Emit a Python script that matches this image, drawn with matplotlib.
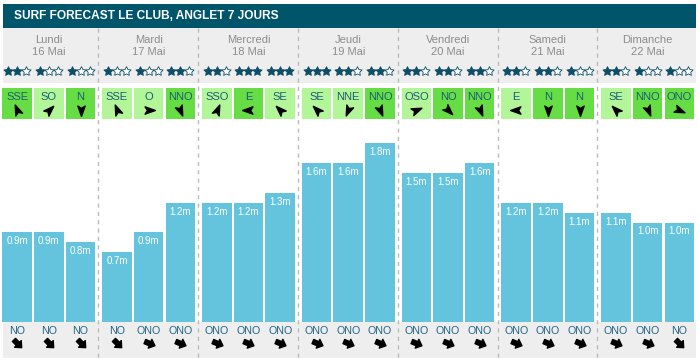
import matplotlib
matplotlib.use("Agg")
import matplotlib.pyplot as plt
import numpy as np
from matplotlib.path import Path
from matplotlib.markers import MarkerStyle
from matplotlib.transforms import Affine2D
from matplotlib.patches import Rectangle

plt.rcParams['font.family'] = ['Liberation Sans', 'DejaVu Sans']

# ---------------- data ----------------
title = "SURF FORECAST LE CLUB, ANGLET 7 JOURS"
days = ["Lundi", "Mardi", "Mercredi", "Jeudi", "Vendredi", "Samedi", "Dimanche"]
dates = ["16 Mai", "17 Mai", "18 Mai", "19 Mai", "20 Mai", "21 Mai", "22 Mai"]
stars = [2, 1, 1, 1, 1, 2, 2, 3, 3, 3, 2, 2, 2, 2, 2, 2, 2, 1, 2, 1, 1]
wind_dir = ["SSE", "SO", "N", "SSE", "O", "NNO", "SSO", "E", "SE", "SE", "NNE", "NNO",
            "OSO", "NO", "NNO", "E", "N", "N", "SE", "NNO", "ONO"]
wind_strong = [1, 0, 1, 0, 0, 1, 0, 1, 0, 0, 0, 1, 0, 1, 1, 0, 1, 1, 0, 1, 1]
wave_height = [0.9, 0.9, 0.8, 0.7, 0.9, 1.2, 1.2, 1.2, 1.3, 1.6, 1.6, 1.8,
               1.5, 1.5, 1.6, 1.2, 1.2, 1.1, 1.1, 1.0, 1.0]
swell_dir = ["NO", "NO", "NO", "NO", "ONO", "ONO", "ONO", "ONO", "ONO", "ONO", "ONO", "ONO",
             "ONO", "ONO", "ONO", "ONO", "ONO", "ONO", "ONO", "ONO", "NO"]

compass = ["N", "NNE", "NE", "ENE", "E", "ESE", "SE", "SSE",
           "S", "SSO", "SO", "OSO", "O", "ONO", "NO", "NNO"]

# ---------------- layout / style ----------------
W, H = 700, 363
DAY_X0, DAY_W, SLOT_W, BAR_W = 2.4, 99.8, 31.7, 29.5
PX_PER_M = 99.5
BAR_BASE, BAR_TOP = 322, 120

TEAL = "#00556b"
GRAY = "#eeeeee"
BAR_C = "#64c4de"
GREEN_D = "#66dd44"
GREEN_L = "#b3f699"
STAR_C = "#0d4d66"
TXT_DAY = "#8c8c8c"
TXT_WIND = "#1b5e74"
TXT_SWELL = "#1f6385"

n = len(wave_height)
idx = np.arange(n)
xc = DAY_X0 + (idx // 3) * DAY_W + (idx % 3) * SLOT_W + BAR_W / 2


def bearing(name):
    return compass.index(name) * 22.5


dart = Path([(0, 1), (0.62, -0.75), (0, -0.35), (-0.62, -0.75), (0, 1)],
            [Path.MOVETO, Path.LINETO, Path.LINETO, Path.LINETO, Path.CLOSEPOLY])
fat_arrow = Path([(0, 1), (0.8, 0.1), (0.38, 0.1), (0.38, -0.85), (-0.38, -0.85),
                  (-0.38, 0.1), (-0.8, 0.1), (0, 1)],
                 [Path.MOVETO] + [Path.LINETO] * 6 + [Path.CLOSEPOLY])

fig = plt.figure(figsize=(W / 100, H / 100), dpi=100, facecolor="white")

# background axes in pixel units
bg = fig.add_axes([0, 0, 1, 1])
bg.set_xlim(0, W)
bg.set_ylim(H, 0)
bg.axis("off")

# title bar
bg.add_patch(Rectangle((3, 4), 693, 24, color=TEAL, lw=0))
bg.text(14, 16, title, color="white", fontsize=8.6, fontweight="bold", va="center", ha="left")

# gray panels
bg.add_patch(Rectangle((3, 28), 693, 55, color=GRAY, lw=0))
bg.add_patch(Rectangle((3, BAR_BASE), 693, 36, color=GRAY, lw=0))

# day labels
for d, (dn, dt) in enumerate(zip(days, dates)):
    cx = DAY_X0 + d * DAY_W + (2 * SLOT_W + BAR_W) / 2
    bg.text(cx, 40, dn, color=TXT_DAY, fontsize=8, ha="center", va="center")
    bg.text(cx, 52, dt, color=TXT_DAY, fontsize=8, ha="center", va="center")

# stars
for i in range(n):
    for k in range(3):
        sx = xc[i] + (k - 1) * 9
        filled = k < stars[i]
        bg.scatter([sx], [70.5], s=48, marker=(5, 1, 0),
                   facecolor=STAR_C if filled else "white",
                   edgecolor=STAR_C, linewidths=0.6, zorder=3)

# wind boxes
for i in range(n):
    bg.add_patch(Rectangle((xc[i] - BAR_W / 2, 88), BAR_W, 31,
                           color=GREEN_D if wind_strong[i] else GREEN_L, lw=0))
    bg.text(xc[i], 97, wind_dir[i], color=TXT_WIND, fontsize=8, ha="center", va="center")
    rot = -(bearing(wind_dir[i]) + 180)
    m = MarkerStyle(dart, transform=Affine2D().rotate_deg(rot))
    bg.plot([xc[i]], [110], marker=m, markersize=8.5, color="black", linestyle="none")

# swell labels and arrows
for i in range(n):
    bg.text(xc[i], 331, swell_dir[i], color=TXT_SWELL, fontsize=7.7, ha="center", va="center")
    rot = -(bearing(swell_dir[i]) + 180)
    m = MarkerStyle(fat_arrow, transform=Affine2D().rotate_deg(rot))
    bg.plot([xc[i]], [343], marker=m, markersize=8.5, color="black", linestyle="none")

# dividers
for d in range(1, 7):
    x = DAY_X0 + d * DAY_W - 3.9
    bg.plot([x, x], [28, 358], color="#bbbbbb", lw=1, dashes=(3, 3), zorder=4)

# bar axes
ax = fig.add_axes([0, (H - BAR_BASE) / H, 1, (BAR_BASE - BAR_TOP) / H])
ax.set_xlim(0, W)
ax.set_ylim(0, (BAR_BASE - BAR_TOP) / PX_PER_M)
ax.axis("off")
ax.bar(xc, wave_height, width=BAR_W, color=BAR_C, linewidth=0)
for x, v in zip(xc, wave_height):
    ax.annotate(f"{v:.1f}m", (x, v), xytext=(0, -9), textcoords="offset pixels",
                ha="center", va="center", color="white", fontsize=7)

fig.savefig("out.png", dpi=100, facecolor="white")
